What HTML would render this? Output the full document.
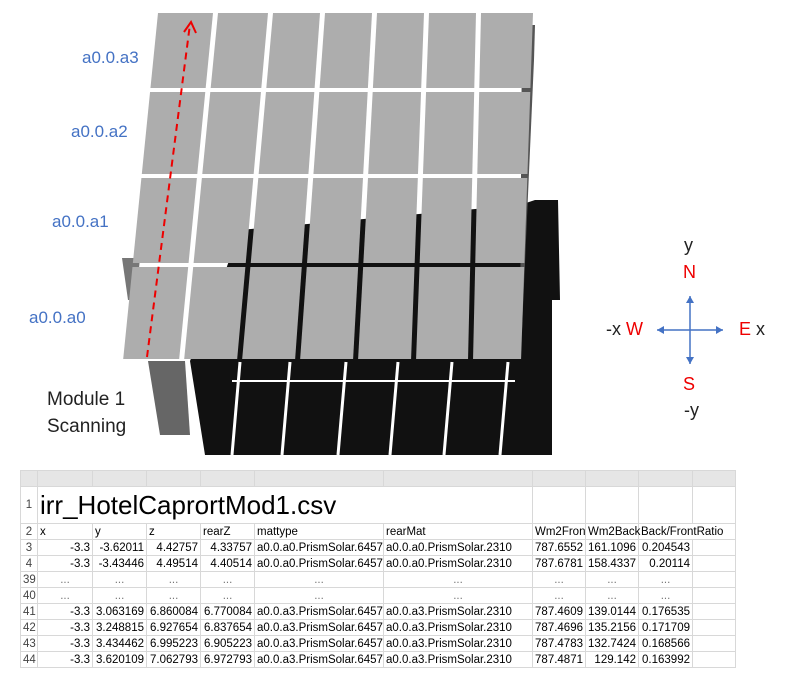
<!DOCTYPE html>
<html><head><meta charset="utf-8">
<style>
body{margin:0;width:785px;height:676px;background:#fff;overflow:hidden;font-family:"Liberation Sans",sans-serif;position:relative}
.lbl{position:absolute;color:#4472c4;font-size:17px}
.blk{position:absolute;color:#222;font-size:19px}
#sheet{position:absolute;left:20px;top:470px}
#sheet table{border-collapse:collapse;font-family:"Liberation Sans",sans-serif;font-size:11.5px;table-layout:fixed;width:715px}
#sheet td{border:1px solid #d8d8d8;height:15px;padding:0 2px;white-space:nowrap;overflow:visible}
#sheet td.n{text-align:right}
#sheet td.c{text-align:center;color:#777}
#sheet td.rn{text-align:center;color:#444;background:#fff}
</style></head><body>
<svg width="785" height="676" style="position:absolute;left:0;top:0" id="scene">
  <polygon points="205,455 552,455 552,300 560,300 558,200 535,200 520,205 240,230 215,300 190,361" fill="#111"/>
  <polygon points="148,361 185,361 190,435 160,435" fill="#666"/>
  <polygon points="522,25 535,25 534,60 522,330 520,330" fill="#555"/>
  <polygon points="122,258 140,258 136,300 128,300" fill="#777"/>
  <g id="panels"></g>
  <g id="shadowlines"></g>
  <line x1="147" y1="357" x2="190" y2="24" stroke="#e00" stroke-width="2" stroke-dasharray="7,5"/>
  <polyline points="184,32 191,22 196,33" fill="none" stroke="#e00" stroke-width="2"/>
  <line x1="657" y1="330" x2="723" y2="330" stroke="#4472c4" stroke-width="1.5"/>
  <line x1="690" y1="296" x2="690" y2="364" stroke="#4472c4" stroke-width="1.5"/>
  <polygon points="657,330 664,326 664,334" fill="#4472c4"/>
  <polygon points="723,330 716,326 716,334" fill="#4472c4"/>
  <polygon points="690,296 686,303 694,303" fill="#4472c4"/>
  <polygon points="690,364 686,357 694,357" fill="#4472c4"/>
</svg>
<script>
const xt=[158,215,270,322,374,426,478,535];
const xb=[123,181,239,297,355,413,470,523];
const ys=[13,90,176,265,361];
const g=document.getElementById('panels');
function X(arr,i,y){const t=(y-13)/348;return xt[i]+(xb[i]-xt[i])*t;}
for(let c=0;c<7;c++){for(let r=0;r<4;r++){
  const y0=ys[r]+(r?2:0),y1=ys[r+1]-2;
  const p=document.createElementNS('http://www.w3.org/2000/svg','polygon');
  const pts=[[X(0,c,y0)+(c?3:0),y0],[X(0,c+1,y0)-2,y0],[X(0,c+1,y1)-2,y1],[X(0,c,y1)+(c?3:0),y1]];
  p.setAttribute('points',pts.map(q=>q.join(',')).join(' '));
  p.setAttribute('fill','#adadad');
  
  
  g.appendChild(p);
}}
const s=document.getElementById('shadowlines');
const sx=[232,282,338,390,444,500];
for(const x of sx){const l=document.createElementNS('http://www.w3.org/2000/svg','line');
l.setAttribute('x1',x+8);l.setAttribute('y1',362);l.setAttribute('x2',x);l.setAttribute('y2',455);
l.setAttribute('stroke','#fff');l.setAttribute('stroke-width','3');


s.appendChild(l);}
const h=document.createElementNS('http://www.w3.org/2000/svg','line');
h.setAttribute('x1',232);h.setAttribute('y1',381);h.setAttribute('x2',515);h.setAttribute('y2',381);
h.setAttribute('stroke','#fff');h.setAttribute('stroke-width','2');


s.appendChild(h);
</script>
<div class="lbl" style="left:82px;top:48px">a0.0.a3</div>
<div class="lbl" style="left:71px;top:122px">a0.0.a2</div>
<div class="lbl" style="left:52px;top:212px">a0.0.a1</div>
<div class="lbl" style="left:29px;top:308px">a0.0.a0</div>
<div class="blk" style="left:47px;top:386px;line-height:27px">Module 1<br>Scanning</div>
<div class="blk" style="left:684px;top:235px;font-size:18px">y</div>
<div class="blk" style="left:683px;top:262px;font-size:18px;color:#e00">N</div>
<div class="blk" style="left:606px;top:319px;font-size:18px">-x <span style="color:#e00">W</span></div>
<div class="blk" style="left:739px;top:319px;font-size:18px"><span style="color:#e00">E</span> x</div>
<div class="blk" style="left:683px;top:374px;font-size:18px;color:#e00">S</div>
<div class="blk" style="left:684px;top:400px;font-size:18px">-y</div>
<div id="sheet">
<table>
<colgroup><col style="width:17px"><col style="width:55px"><col style="width:54px"><col style="width:54px"><col style="width:54px"><col style="width:129px"><col style="width:149px"><col style="width:53px"><col style="width:53px"><col style="width:54px"><col style="width:43px"></colgroup>
<tr style="background:#e6e6e6"><td style="height:10px"></td><td></td><td></td><td></td><td></td><td></td><td></td><td></td><td></td><td></td><td></td></tr>
<tr><td class="rn">1</td><td colspan="6" style="height:36px;font-size:26px;border-right:none">irr_HotelCaprortMod1.csv</td><td></td><td></td><td></td><td></td></tr>
<tr><td class="rn">2</td><td>x</td><td>y</td><td>z</td><td>rearZ</td><td>mattype</td><td>rearMat</td><td>Wm2Fron</td><td>Wm2Back</td><td colspan="2">Back/FrontRatio</td></tr>
<tr><td class="rn">3</td><td class="n">-3.3</td><td class="n">-3.62011</td><td class="n">4.42757</td><td class="n">4.33757</td><td>a0.0.a0.PrismSolar.6457</td><td>a0.0.a0.PrismSolar.2310</td><td class="n">787.6552</td><td class="n">161.1096</td><td class="n">0.204543</td><td></td></tr>
<tr><td class="rn">4</td><td class="n">-3.3</td><td class="n">-3.43446</td><td class="n">4.49514</td><td class="n">4.40514</td><td>a0.0.a0.PrismSolar.6457</td><td>a0.0.a0.PrismSolar.2310</td><td class="n">787.6781</td><td class="n">158.4337</td><td class="n">0.20114</td><td></td></tr>
<tr><td class="rn">39</td><td class="c">...</td><td class="c">...</td><td class="c">...</td><td class="c">...</td><td class="c">...</td><td class="c">...</td><td class="c">...</td><td class="c">...</td><td class="c">...</td><td></td></tr>
<tr><td class="rn">40</td><td class="c">...</td><td class="c">...</td><td class="c">...</td><td class="c">...</td><td class="c">...</td><td class="c">...</td><td class="c">...</td><td class="c">...</td><td class="c">...</td><td></td></tr>
<tr><td class="rn">41</td><td class="n">-3.3</td><td class="n">3.063169</td><td class="n">6.860084</td><td class="n">6.770084</td><td>a0.0.a3.PrismSolar.6457</td><td>a0.0.a3.PrismSolar.2310</td><td class="n">787.4609</td><td class="n">139.0144</td><td class="n">0.176535</td><td></td></tr>
<tr><td class="rn">42</td><td class="n">-3.3</td><td class="n">3.248815</td><td class="n">6.927654</td><td class="n">6.837654</td><td>a0.0.a3.PrismSolar.6457</td><td>a0.0.a3.PrismSolar.2310</td><td class="n">787.4696</td><td class="n">135.2156</td><td class="n">0.171709</td><td></td></tr>
<tr><td class="rn">43</td><td class="n">-3.3</td><td class="n">3.434462</td><td class="n">6.995223</td><td class="n">6.905223</td><td>a0.0.a3.PrismSolar.6457</td><td>a0.0.a3.PrismSolar.2310</td><td class="n">787.4783</td><td class="n">132.7424</td><td class="n">0.168566</td><td></td></tr>
<tr><td class="rn">44</td><td class="n">-3.3</td><td class="n">3.620109</td><td class="n">7.062793</td><td class="n">6.972793</td><td>a0.0.a3.PrismSolar.6457</td><td>a0.0.a3.PrismSolar.2310</td><td class="n">787.4871</td><td class="n">129.142</td><td class="n">0.163992</td><td></td></tr>
</table></div>
</body></html>
